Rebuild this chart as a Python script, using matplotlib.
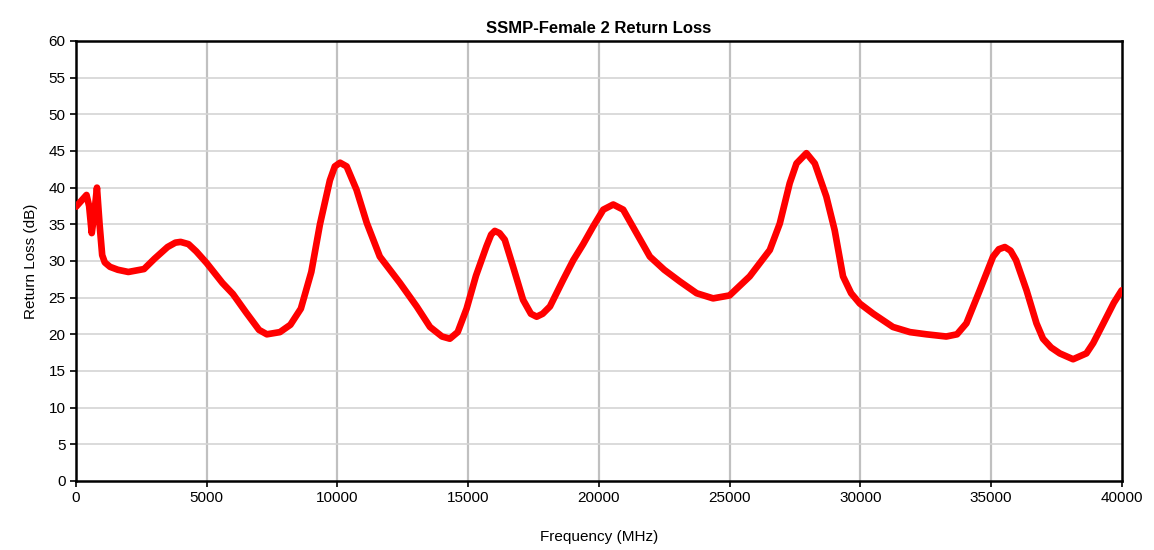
import matplotlib
matplotlib.use("Agg")
import matplotlib.pyplot as plt

# values
freq_mhz = [0, 200, 400, 500, 600, 700, 800, 900, 1000, 1100, 1300, 1600, 2000,
            2600, 3000, 3500, 3800, 4000, 4300, 4600, 5000, 5600, 6000, 6500,
            7000, 7300, 7800, 8200, 8600, 9000, 9330, 9710, 9900, 10100, 10350,
            10730, 11120, 11620, 12390, 13030, 13540, 14000, 14300, 14600,
            14940, 15300, 15700, 15880, 16020, 16200, 16400, 16720, 17100,
            17400, 17620, 17850, 18130, 18630, 19020, 19400, 19780, 20170,
            20550, 20930, 21440, 21950, 22500, 23100, 23740, 24370, 25000,
            25770, 26540, 26920, 27300, 27560, 27940, 28260, 28700, 29020,
            29340, 29650, 29980, 30500, 31250, 31900, 32530, 33290, 33700,
            34060, 34570, 35080, 35300, 35530, 35750, 35960, 36360, 36740,
            36990, 37300, 37630, 38140, 38650, 38910, 39300, 39700, 40000]
return_loss_db = [37.4, 38.2, 39.0, 37.5, 33.8, 36.5, 40.0, 35.0, 30.8, 29.8,
                  29.2, 28.8, 28.5, 28.9, 30.3, 31.9, 32.5, 32.6, 32.3, 31.3,
                  29.7, 27.0, 25.5, 23.0, 20.6, 20.0, 20.3, 21.3, 23.5, 28.5,
                  35.0, 41.0, 42.9, 43.4, 42.9, 39.7, 35.2, 30.6, 27.0, 23.8,
                  21.0, 19.7, 19.4, 20.3, 23.5, 28.0, 32.0, 33.6, 34.1, 33.8,
                  32.9, 29.2, 24.7, 22.8, 22.4, 22.8, 23.8, 27.4, 30.1, 32.3,
                  34.7, 37.0, 37.7, 37.0, 33.8, 30.6, 28.8, 27.2, 25.6, 24.9,
                  25.3, 27.9, 31.5, 35.1, 40.6, 43.3, 44.7, 43.3, 38.8, 34.2,
                  27.9, 25.6, 24.2, 22.8, 21.0, 20.3, 20.0, 19.7, 20.0, 21.5,
                  26.0, 30.6, 31.6, 31.9, 31.4, 30.1, 26.0, 21.5, 19.4, 18.2,
                  17.4, 16.6, 17.4, 18.8, 21.5, 24.3, 26.0]

x_ticks = list(range(0, 40001, 5000))
y_ticks = list(range(0, 61, 5))

plt.rcParams["font.family"] = ["Liberation Sans", "DejaVu Sans"]

fig = plt.figure(figsize=(11.54, 5.5), dpi=100)
ax = fig.add_axes([0.0659, 0.1255, 0.9061, 0.80])

# gridlines: vertical darker, horizontal lighter
for xv in x_ticks[1:-1]:
    ax.axvline(xv, color="#c0c0c0", lw=1.6, zorder=1)
for yv in y_ticks[1:-1]:
    ax.axhline(yv, color="#d4d4d4", lw=1.2, zorder=1)

ax.plot(freq_mhz, return_loss_db, color="#ff0000", lw=4.8,
        solid_joinstyle="round", solid_capstyle="round", zorder=3)

ax.set_xlim(0, 40000)
ax.set_ylim(0, 60)
ax.set_xticks(x_ticks)
ax.set_yticks(y_ticks)
ax.tick_params(direction="out", length=4, width=1.2, labelsize=11, colors="black")
for s in ax.spines.values():
    s.set_color("black")
    s.set_linewidth(1.8)

ax.set_title("SSMP-Female 2 Return Loss", fontsize=12, fontweight="bold", pad=6)
ax.set_xlabel("Frequency (MHz)", fontsize=11, labelpad=18)
ax.set_ylabel("Return Loss (dB)", fontsize=11, labelpad=8)

fig.savefig("out.png", dpi=100)
plt.close(fig)
